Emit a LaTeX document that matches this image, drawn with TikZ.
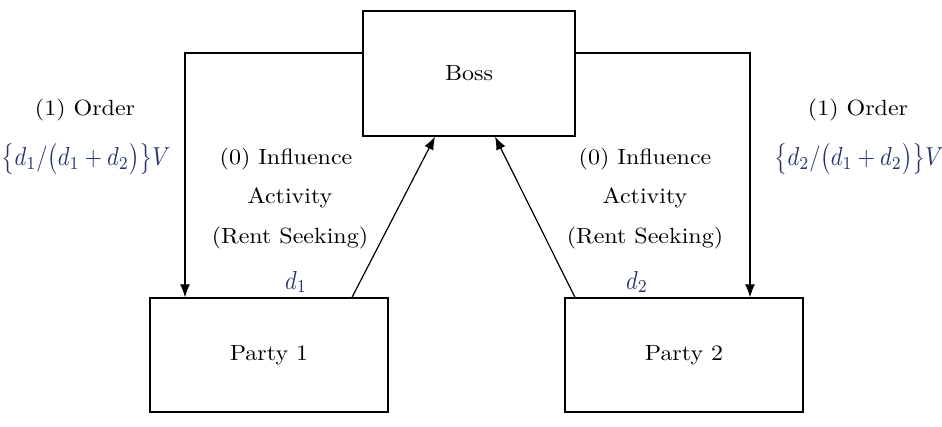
\documentclass[tikz,border=0pt]{standalone}
\usepackage{graphicx}
\usetikzlibrary{arrows.meta}
\definecolor{mathblue}{RGB}{40,50,110}
\newcommand{\bigtxt}[1]{\scalebox{2.4}[2.2]{#1}}
\newcommand{\bigmth}[1]{\scalebox{2.25}[2.6]{#1}}
\tikzset{
  lbl/.style={inner sep=0pt},
  mth/.style={inner sep=0pt, text=mathblue},
  conn/.style={line width=1.2pt, -{Latex[length=13pt,width=10pt]}},
  box/.style={draw,line width=1.3pt,inner sep=0pt},
}
\begin{document}
\begin{tikzpicture}[x=1pt,y=-1pt]
\useasboundingbox (0,0) rectangle (942,426);
\node[box,minimum width=212pt,minimum height=125pt] (boss) at (469,73.5) {\bigtxt{Boss}};
\node[box,minimum width=238pt,minimum height=114pt] (p1) at (269,355) {\bigtxt{Party 1}};
\node[box,minimum width=238pt,minimum height=114pt] (p2) at (684,355) {\bigtxt{Party 2}};
\coordinate (bl) at (185,53);
\coordinate (br) at (750,53);
\draw[conn] (boss.west |- bl) -- (bl) -- (bl |- p1.north);
\draw[conn] (boss.east |- br) -- (br) -- (br |- p2.north);
\draw[conn] (p1.north -| 352,0) -- (boss.south -| 435,0);
\draw[conn] (p2.north -| 575,0) -- (boss.south -| 495,0);
\node[lbl] (o1) at (85,110) {\bigtxt{(1) Order}};
\node[mth] (f1) at (86,159) {\bigmth{$\bigl\{d_1/\bigl(d_1+d_2\bigr)\bigr\}V$}};
\node[lbl] (o2) at (858,110) {\bigtxt{(1) Order}};
\node[mth] (f2) at (859,159) {\bigmth{$\bigl\{d_2/\bigl(d_1+d_2\bigr)\bigr\}V$}};
\node[lbl] (i1a) at (286,159) {\bigtxt{(0) Influence}};
\node[lbl] (i1b) at (290,198) {\bigtxt{Activity}};
\node[lbl] (i1c) at (290,238) {\bigtxt{(Rent Seeking)}};
\node[mth] (d1) at (296,282) {\bigmth{$d_1$}};
\node[lbl] (i2a) at (645,159) {\bigtxt{(0) Influence}};
\node[lbl] (i2b) at (645,198) {\bigtxt{Activity}};
\node[lbl] (i2c) at (645,238) {\bigtxt{(Rent Seeking)}};
\node[mth] (d2) at (637,282) {\bigmth{$d_2$}};
\end{tikzpicture}
\end{document}
